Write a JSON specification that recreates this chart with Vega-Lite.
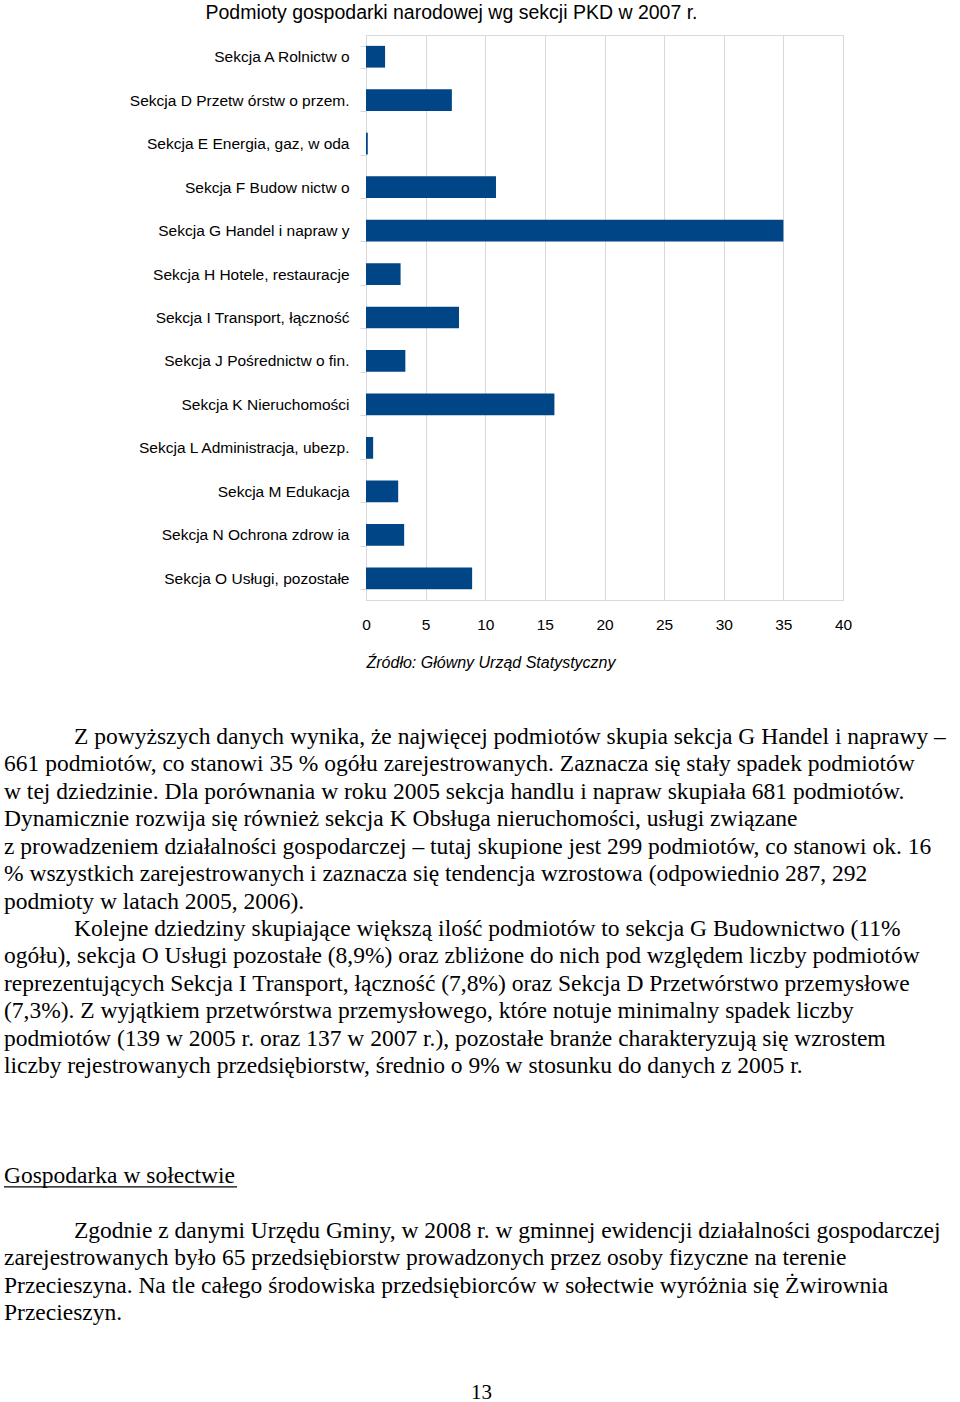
{
  "$schema": "https://vega.github.io/schema/vega-lite/v6.json",
  "background": "white",
  "padding": {"left": 3, "top": 2, "right": 0, "bottom": 0},
  "spacing": 54,
  "config": {"view": {"stroke": null}, "font": "Liberation Sans"},
  "vconcat": [
    {
      "width": 477,
      "height": 565,
      "title": {"text": "Podmioty gospodarki narodowej wg sekcji PKD w 2007 r.", "fontSize": 19.5, "fontWeight": "normal", "font": "Liberation Sans", "color": "black", "anchor": "middle", "frame": "group", "dx": -153, "offset": 5},
      "view": {"stroke": "#d9d9d9"},
      "data": {"values": [
        {"sekcja": "Sekcja A Rolnictw o", "wartosc": 1.6},
        {"sekcja": "Sekcja D Przetw órstw o przem.", "wartosc": 7.2},
        {"sekcja": "Sekcja E Energia, gaz, w oda", "wartosc": 0.15},
        {"sekcja": "Sekcja F Budow nictw o", "wartosc": 10.9},
        {"sekcja": "Sekcja G Handel i napraw y", "wartosc": 35.0},
        {"sekcja": "Sekcja H Hotele, restauracje", "wartosc": 2.9},
        {"sekcja": "Sekcja I Transport, łączność", "wartosc": 7.8},
        {"sekcja": "Sekcja J Pośrednictw o fin.", "wartosc": 3.3},
        {"sekcja": "Sekcja K Nieruchomości", "wartosc": 15.8},
        {"sekcja": "Sekcja L Administracja, ubezp.", "wartosc": 0.6},
        {"sekcja": "Sekcja M Edukacja", "wartosc": 2.7},
        {"sekcja": "Sekcja N Ochrona zdrow ia", "wartosc": 3.2},
        {"sekcja": "Sekcja O Usługi, pozostałe", "wartosc": 8.9}
      ]},
      "mark": {"type": "bar", "color": "#004586"},
      "encoding": {
        "y": {
          "field": "sekcja", "type": "nominal", "sort": null,
          "scale": {"paddingInner": 0.5, "paddingOuter": 0.25},
          "axis": {"title": null, "labelFont": "Liberation Sans", "labelFontSize": 15.5, "labelColor": "black", "labelLimit": 400, "tickBand": "extent", "tickSize": 6, "tickColor": "#d9d9d9", "domainColor": "#d9d9d9", "labelPadding": 11, "minExtent": 362, "grid": false}
        },
        "x": {
          "field": "wartosc", "type": "quantitative",
          "scale": {"domain": [0, 40], "nice": false},
          "axis": {"values": [0, 5, 10, 15, 20, 25, 30, 35, 40], "grid": true, "gridColor": "#d9d9d9", "ticks": false, "labelFlush": false, "domainColor": "#d9d9d9", "labelFont": "Liberation Sans", "labelFontSize": 15.5, "labelColor": "black", "labelPadding": 17, "title": "Źródło: Główny Urząd Statystyczny", "titleFont": "Liberation Sans", "titleFontStyle": "italic", "titleFontWeight": "normal", "titleFontSize": 16, "titleColor": "black", "titleAnchor": "start", "titlePadding": 22}
        }
      }
    },
    {
      "width": 957,
      "height": 576,
      "title": {"text": "13", "orient": "bottom", "anchor": "middle", "frame": "group", "dx": -363, "font": "Liberation Serif", "fontSize": 21, "fontWeight": "normal", "color": "black", "offset": 57},
      "data": {"values": [
        {"line": 1, "pierwsza": true, "text": "Z powyższych danych wynika, że najwięcej podmiotów skupia sekcja G Handel i naprawy –"},
        {"line": 2, "text": "661 podmiotów, co stanowi 35 % ogółu zarejestrowanych. Zaznacza się stały spadek podmiotów"},
        {"line": 3, "text": "w tej dziedzinie. Dla porównania w roku 2005 sekcja handlu i napraw skupiała 681 podmiotów."},
        {"line": 4, "text": "Dynamicznie rozwija się również sekcja K Obsługa nieruchomości, usługi związane"},
        {"line": 5, "text": "z prowadzeniem działalności gospodarczej – tutaj skupione jest 299 podmiotów, co stanowi ok. 16"},
        {"line": 6, "text": "% wszystkich zarejestrowanych i zaznacza się tendencja wzrostowa (odpowiednio 287, 292"},
        {"line": 7, "text": "podmioty w latach 2005, 2006)."},
        {"line": 8, "pierwsza": true, "text": "Kolejne dziedziny skupiające większą ilość podmiotów to sekcja G Budownictwo (11%"},
        {"line": 9, "text": "ogółu), sekcja O Usługi pozostałe (8,9%) oraz zbliżone do nich pod względem liczby podmiotów"},
        {"line": 10, "text": "reprezentujących Sekcja I Transport, łączność (7,8%) oraz Sekcja D Przetwórstwo przemysłowe"},
        {"line": 11, "text": "(7,3%). Z wyjątkiem przetwórstwa przemysłowego, które notuje minimalny spadek liczby"},
        {"line": 12, "text": "podmiotów (139 w 2005 r. oraz 137 w 2007 r.), pozostałe branże charakteryzują się wzrostem"},
        {"line": 13, "text": "liczby rejestrowanych przedsiębiorstw, średnio o 9% w stosunku do danych z 2005 r."},
        {"line": 17, "naglowek": true, "text": "Gospodarka w sołectwie"},
        {"line": 19, "pierwsza": true, "text": "Zgodnie z danymi Urzędu Gminy, w 2008 r. w gminnej ewidencji działalności gospodarczej"},
        {"line": 20, "text": "zarejestrowanych było 65 przedsiębiorstw prowadzonych przez osoby fizyczne na terenie"},
        {"line": 21, "text": "Przecieszyna. Na tle całego środowiska przedsiębiorców w sołectwie wyróżnia się Żwirownia"},
        {"line": 22, "text": "Przecieszyn."}
      ]},
      "encoding": {
        "x": {"datum": 0, "type": "quantitative", "scale": {"domain": [0, 1], "range": [-362, 595], "nice": false, "zero": false}, "axis": null},
        "y": {"field": "line", "type": "quantitative", "scale": {"domain": [1, 22], "reverse": true, "nice": false, "zero": false}, "axis": null}
      },
      "layer": [
        {
          "transform": [{"filter": "!datum.pierwsza"}],
          "mark": {"type": "text", "align": "left", "baseline": "middle", "font": "Liberation Serif", "fontSize": 23.5, "color": "black"},
          "encoding": {"text": {"field": "text"}}
        },
        {
          "transform": [{"filter": "datum.pierwsza"}],
          "mark": {"type": "text", "align": "left", "baseline": "middle", "font": "Liberation Serif", "fontSize": 23.5, "color": "black", "dx": 70},
          "encoding": {"text": {"field": "text"}}
        },
        {
          "transform": [{"filter": "datum.naglowek"}],
          "mark": {"type": "rule", "color": "black", "strokeWidth": 1.2, "yOffset": 11},
          "encoding": {"x2": {"datum": 0.2435}}
        }
      ]
    }
  ]
}
